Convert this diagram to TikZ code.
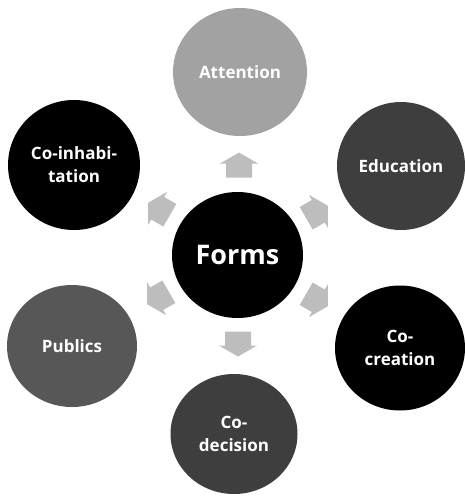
\documentclass[tikz,border=0pt]{standalone}
\usepackage{fontspec}
\setmainfont{Open Sans}
\usetikzlibrary{shapes.geometric}
\definecolor{lightg}{HTML}{A2A2A2}
\definecolor{darkg}{HTML}{3E3E3E}
\definecolor{midg}{HTML}{575757}
\definecolor{arrowg}{HTML}{BDBDBD}
\tikzset{
  bubble/.style={ellipse, inner sep=0pt, text=white, align=center,
    font=\bfseries\fontsize{17}{23}\selectfont},
  center bubble/.style={bubble, fill=black, font=\bfseries\fontsize{27}{32}\selectfont},
  blockarrow/.style={fill=arrowg}
}
\newcommand\myblockarrow[3]{%
  \fill[blockarrow, shift={#1}, rotate=#2] (-12.5,-13) -- (1.5,-13) -- (1.5,-19) -- (12.5,0) -- (1.5,19) -- (1.5,13) -- (-12.5,13) -- cycle;
  \coordinate (#3) at #1;}
\begin{document}
\begin{tikzpicture}[x=1pt,y=-1pt]
\useasboundingbox (0,0) rectangle (465,496);
\node[center bubble, minimum width=131, minimum height=126] (forms) at (237.5,255) {Forms};
\node[bubble, fill=lightg, minimum width=134, minimum height=128] (att) at (240,72) {Attention};
\node[bubble, fill=darkg, minimum width=128, minimum height=128] (edu) at (401,166) {Education};
\node[bubble, fill=black, minimum width=132, minimum height=130] (coinh) at (74,165) {Co-inhabi-\\tation};
\node[bubble, fill=midg, minimum width=130, minimum height=122] (pub) at (72,346) {Publics};
\node[bubble, fill=black, minimum width=130, minimum height=125] (cocr) at (400,348) {Co-\\creation};
\node[bubble, fill=darkg, minimum width=127, minimum height=120] (codec) at (234,434) {Co-\\decision};
\myblockarrow{(239,165)}{90}{a1}
\myblockarrow{(159,209)}{150}{a2}
\myblockarrow{(317,212)}{30}{a3}
\myblockarrow{(158,298)}{210}{a4}
\myblockarrow{(317,300)}{330}{a5}
\myblockarrow{(238,344)}{270}{a6}
\end{tikzpicture}
\end{document}
